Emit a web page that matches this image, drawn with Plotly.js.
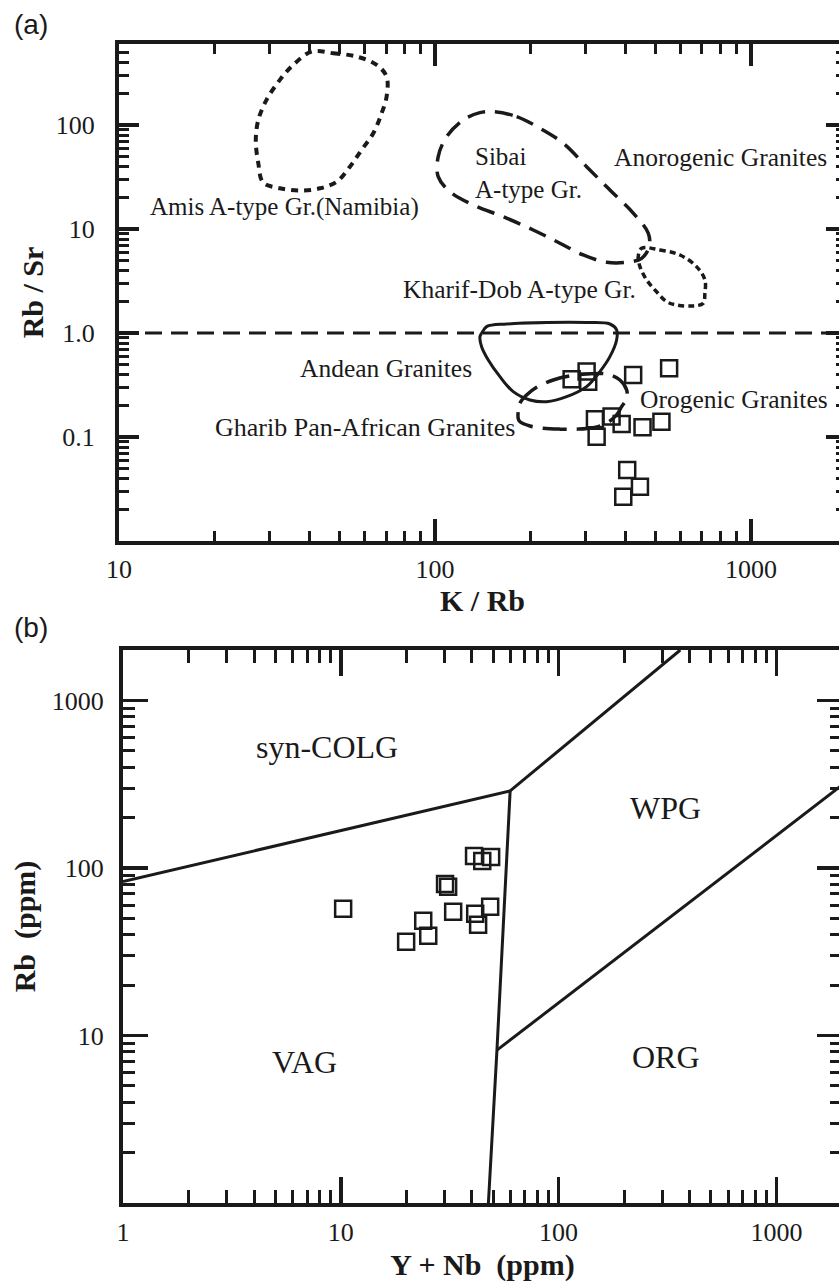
<!DOCTYPE html>
<html>
<head>
<meta charset="utf-8">
<script src="https://cdn.plot.ly/plotly-3.0.1.min.js"></script>
<style>
html,body{margin:0;padding:0;overflow:hidden;background:#fff;}
#chart{width:850px;height:1284px;}
</style>
</head>
<body>
<div id="chart"></div>
<script>
// ---------- Panel (a): K/Rb vs Rb/Sr ----------
const kRbA  = [270.8, 302, 305.6, 424, 551, 320.9, 362.3, 389.9, 324.9, 454, 521, 406, 445.5, 394.5];
const rbSrA = [0.359, 0.425, 0.340, 0.394, 0.457, 0.148, 0.157, 0.133, 0.1007, 0.124, 0.140, 0.0482, 0.0333, 0.0267];

const amisX = [40.7,47.7,56.5,65.4,70.3,70.3,67.8,63.8,58.6,53.8,48.9,43.3,37.4,32.3,28.6,27.6,27.1,27.6,29.3,32.3,35.6,40.7];
const amisY = [507,489,454,378,291,187,129.6,83.2,57.5,39.7,28.5,24.6,23.4,24.6,27.9,42.8,71.7,111.7,174,271,378,507];

const sibaiX = [152.9,181.4,214.9,254.7,302,357.9,424.2,473.2,476.6,451,404.4,349.4,294.6,248.6,204.7,164.5,132.2,111.6,102.4,102.4,108.9,122.9,138.8,152.9];
const sibaiY = [134.3,120.2,92.9,66.7,39.7,23.7,14.2,9.1,6.76,5.22,4.79,4.79,5.62,7.29,9.78,13.1,17.0,22.8,31.8,49.6,77.2,111.7,131.3,134.3];

const kharifX = [451,515.2,596.3,673,715.2,715.2,706.3,656.9,582,541,503,467.7,445.5,440,451];
const kharifY = [6.52,6.28,5.62,4.34,3.24,2.41,1.93,1.82,1.86,2.0,2.49,3.24,4.34,5.42,6.52];

const andeanX = [140.5,145.7,168.6,225.7,302,357.9,375.8,375.8,357.9,332.7,302,261.1,225.7,199.8,176.9,160.6,147.5,140.5,138.8,140.5];
const andeanY = [0.993,1.15,1.22,1.26,1.26,1.22,1.07,0.857,0.592,0.425,0.305,0.244,0.2185,0.227,0.2727,0.380,0.55,0.738,0.921,0.993];

const gharibX = [183.4,185.8,195,209.8,236.8,267.4,302,349.4,384.9,404.4,404.4,389.7,375.8,349.4,316.7,280.8,248.6,220.1,199.8,185.8,183.4];
const gharibY = [0.151,0.211,0.2535,0.301,0.353,0.386,0.403,0.403,0.353,0.283,0.2357,0.1956,0.163,0.1355,0.1228,0.119,0.119,0.1213,0.1276,0.140,0.151];

const rbSrLimitX = [10, 2000];
const rbSrLimitY = [1, 1];

const xTicksA = [10, 100, 1000];
const xTickTextA = ['10', '100', '1000'];
const yTicksA = [0.1, 1, 10, 100];
const yTickTextA = ['0.1', '1.0', '10', '100'];

// ---------- Panel (b): Y+Nb vs Rb ----------
const ynbB = [10.25,19.95,23.9,25.2,30.1,31.1,32.8,40.9,44.6,49.0,41.4,48.5,42.7];
const rbB  = [57.0,36.3,48.4,39.4,80.3,77.1,54.7,117.9,110.1,116.3,53.2,58.6,45.8];

const colgVagX = [1, 59.9];      const colgVagY = [82.9, 288.4];
const colgWpgX = [59.9, 361.9];  const colgWpgY = [288.4, 2000];
const vagWpgX  = [59.9, 52.1, 47.6]; const vagWpgY = [288.4, 8.17, 1];
const wpgOrgX  = [52.1, 2000];   const wpgOrgY  = [8.17, 312];

const xTicksB = [1, 10, 100, 1000];
const xTickTextB = ['1', '10', '100', '1000'];
const yTicksB = [10, 100, 1000];
const yTickTextB = ['10', '100', '1000'];

// ---------- drawing ----------
const W = 850, H = 1284, L = 100;
const C = '#1a1a1a';
const SERIF = 'Liberation Serif';
const SANS = 'Liberation Sans';
const px = v => (v - L) / (W - L);
const py = v => 1 - v / H;

function minorVals(lo, hi) {
  const v = [];
  for (let d = lo; d < hi; d++) for (let k = 2; k <= 9; k++) v.push(k * Math.pow(10, d));
  return v;
}

function axis(o) {
  return {
    type: 'log', range: o.range, domain: o.domain, anchor: o.anchor,
    showline: true, linewidth: 4, linecolor: C, mirror: 'ticks',
    ticks: 'inside', ticklen: o.major, tickwidth: 3.5, tickcolor: C,
    tickmode: 'array', tickvals: o.tickvals, ticktext: o.ticktext,
    ticklabelstandoff: o.standoff,
    showgrid: false, zeroline: false, fixedrange: true,
    tickfont: {family: SERIF, size: 26, color: C},
    minor: {tickmode: 'array', tickvals: o.minor, ticks: 'inside', ticklen: o.minorLen,
            tickwidth: 3, tickcolor: C, showgrid: false},
    title: {text: '<b>' + o.title + '</b>', standoff: o.titleStandoff,
            font: {family: SERIF, size: 30, color: C}},
    automargin: false
  };
}

function line(x, y, xa, ya, dash, width, spline) {
  return {x: x, y: y, xaxis: xa, yaxis: ya, mode: 'lines', hoverinfo: 'skip',
          line: {color: C, width: width, dash: dash, shape: spline ? 'spline' : 'linear', smoothing: 1}};
}

const traces = [
  line(rbSrLimitX, rbSrLimitY, 'x', 'y', '17px,9px', 3, false),
  line(amisX, amisY, 'x', 'y', '7px,6px', 4, true),
  line(sibaiX, sibaiY, 'x', 'y', '18px,10px', 3.5, true),
  line(kharifX, kharifY, 'x', 'y', '6px,4px', 3.5, true),
  line(andeanX, andeanY, 'x', 'y', 'solid', 3, true),
  line(gharibX, gharibY, 'x', 'y', '24px,10px', 3.5, true),
  {x: kRbA, y: rbSrA, xaxis: 'x', yaxis: 'y', mode: 'markers', hoverinfo: 'skip',
   marker: {symbol: 'square-open', size: 16, color: C, line: {width: 2.5, color: C}}},
  line(colgVagX, colgVagY, 'x2', 'y2', 'solid', 3, false),
  line(colgWpgX, colgWpgY, 'x2', 'y2', 'solid', 3, false),
  line(vagWpgX, vagWpgY, 'x2', 'y2', 'solid', 3, false),
  line(wpgOrgX, wpgOrgY, 'x2', 'y2', 'solid', 3, false),
  {x: ynbB, y: rbB, xaxis: 'x2', yaxis: 'y2', mode: 'markers', hoverinfo: 'skip',
   marker: {symbol: 'square-open', size: 16, color: C, line: {width: 2.5, color: C}}}
];

function note(text, x, y, xanchor, size, family) {
  return {text: text, xref: 'paper', yref: 'paper', x: px(x), y: py(y),
    xanchor: xanchor, yanchor: 'middle', showarrow: false, align: 'left',
    font: {family: family || SERIF, size: size, color: C}};
}

const annotations = [
  note('(a)', 31, 25, 'center', 28, SANS),
  note('(b)', 31, 627, 'center', 28, SANS),
  note('Amis A-type Gr.(Namibia)', 148, 207, 'left', 25),
  note('Sibai<br>A-type Gr.', 473, 173, 'left', 25),
  note('Anorogenic Granites', 612, 158, 'left', 25.5),
  note('Kharif-Dob A-type Gr.', 638, 290, 'right', 25.5),
  note('Andean Granites', 298, 368, 'left', 25.5),
  note('Gharib Pan-African Granites', 213, 428, 'left', 26),
  note('Orogenic Granites', 638, 399, 'left', 25.5),
  note('syn-COLG', 327, 747, 'center', 32),
  note('WPG', 665, 808, 'center', 32),
  note('VAG', 304, 1062, 'center', 32),
  note('ORG', 666, 1057, 'center', 32)
];

const layout = {
  width: W, height: H,
  font: {family: SERIF, size: 26, color: C},
  margin: {l: L, r: 0, t: 0, b: 0, pad: 0},
  paper_bgcolor: '#fff', plot_bgcolor: '#fff',
  showlegend: false,
  xaxis: axis({range: [1, Math.log10(2000)], domain: [px(119), px(846)], anchor: 'y',
               tickvals: xTicksA, ticktext: xTickTextA, minor: minorVals(1, 4),
               major: 22, minorLen: 10, standoff: 2, title: 'K / Rb', titleStandoff: 0}),
  yaxis: axis({range: [-2, Math.log10(600)], domain: [py(541), py(44)], anchor: 'x',
               tickvals: yTicksA, ticktext: yTickTextA, minor: minorVals(-2, 3),
               major: 20, minorLen: 10, standoff: 15, title: 'Rb / Sr', titleStandoff: 4}),
  xaxis2: axis({range: [0, Math.log10(2000)], domain: [px(123), px(842)], anchor: 'y2',
               tickvals: xTicksB, ticktext: xTickTextB, minor: minorVals(0, 4),
               major: 26, minorLen: 13, standoff: 3, title: 'Y + Nb\u00a0\u00a0(ppm)', titleStandoff: 9}),
  yaxis2: axis({range: [0, Math.log10(2000)], domain: [py(1203), py(650)], anchor: 'x2',
               tickvals: yTicksB, ticktext: yTickTextB, minor: minorVals(0, 4),
               major: 25, minorLen: 12, standoff: 10, title: 'Rb\u00a0\u00a0(ppm)', titleStandoff: 8}),
  annotations: annotations
};

Plotly.newPlot('chart', traces, layout, {staticPlot: true, displayModeBar: false});
</script>
</body>
</html>
